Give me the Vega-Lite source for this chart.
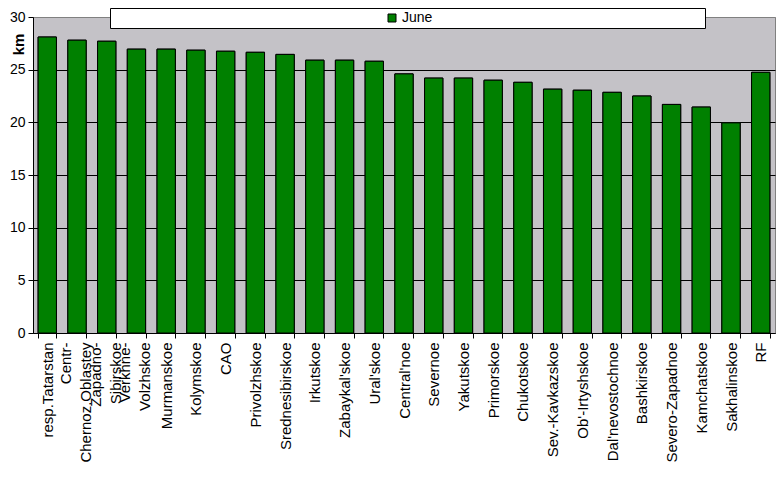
{
  "$schema": "https://vega.github.io/schema/vega-lite/v6.json",
  "width": 742,
  "height": 316,
  "autosize": {"type": "none"},
  "padding": {"left": 33, "top": 17, "right": 5, "bottom": 145},
  "background": "white",
  "config": {
    "view": {"fill": "#C4C2C7", "stroke": "#808080", "strokeWidth": 1},
    "font": "Liberation Sans"
  },
  "data": {
    "values": [
      {"region": "resp.Tatarstan", "km": 28.1, "series": "June"},
      {"region": "Centr-|Chernoz.Oblastey", "km": 27.8, "series": "June"},
      {"region": "Zapadno-|Sibirskoe", "km": 27.7, "series": "June"},
      {"region": "Verkhne-|Volzhskoe", "km": 26.95, "series": "June"},
      {"region": "Murmanskoe", "km": 26.95, "series": "June"},
      {"region": "Kolymskoe", "km": 26.85, "series": "June"},
      {"region": "CAO", "km": 26.75, "series": "June"},
      {"region": "Privolzhskoe", "km": 26.65, "series": "June"},
      {"region": "Srednesibirskoe", "km": 26.45, "series": "June"},
      {"region": "Irkutskoe", "km": 25.9, "series": "June"},
      {"region": "Zabaykal'skoe", "km": 25.9, "series": "June"},
      {"region": "Ural'skoe", "km": 25.8, "series": "June"},
      {"region": "Central'noe", "km": 24.6, "series": "June"},
      {"region": "Severnoe", "km": 24.2, "series": "June"},
      {"region": "Yakutskoe", "km": 24.2, "series": "June"},
      {"region": "Primorskoe", "km": 24.0, "series": "June"},
      {"region": "Chukotskoe", "km": 23.8, "series": "June"},
      {"region": "Sev.-Kavkazskoe", "km": 23.15, "series": "June"},
      {"region": "Ob'-Irtyshskoe", "km": 23.05, "series": "June"},
      {"region": "Dal'nevostochnoe", "km": 22.85, "series": "June"},
      {"region": "Bashkirskoe", "km": 22.5, "series": "June"},
      {"region": "Severo-Zapadnoe", "km": 21.7, "series": "June"},
      {"region": "Kamchatskoe", "km": 21.45, "series": "June"},
      {"region": "Sakhalinskoe", "km": 19.95, "series": "June"},
      {"region": "RF", "km": 24.75, "series": "June"}
    ]
  },
  "encoding": {
    "y": {
      "field": "km",
      "type": "quantitative",
      "scale": {"domain": [0, 30], "nice": false},
      "axis": {
        "title": "km",
        "values": [0, 5, 10, 15, 20, 25, 30],
        "grid": true,
        "gridColor": {"condition": {"test": "datum.value == 30", "value": "#808080"}, "value": "black"},
        "gridOpacity": 1,
        "domainColor": "black",
        "tickColor": "black",
        "tickSize": 5,
        "labelFontSize": 14,
        "labelColor": "black",
        "labelPadding": 3,
        "titleFontSize": 15,
        "titleFontWeight": "bold",
        "titleColor": "black",
        "titleX": -15,
        "titleY": 27,
        "titleAngle": -90,
        "titleAlign": "center",
        "titleBaseline": "middle"
      }
    },
    "color": {
      "field": "series",
      "type": "nominal",
      "scale": {"range": ["#008000"]},
      "legend": {
        "orient": "none",
        "legendX": 77,
        "legendY": -9,
        "title": " ",
        "titleOrient": "right",
        "titlePadding": 270,
        "titleFontSize": 14,
        "titleColor": "white",
        "fillColor": "white",
        "strokeColor": "black",
        "padding": 3,
        "symbolType": "square",
        "symbolSize": 64,
        "symbolStrokeColor": "black",
        "symbolStrokeWidth": 1,
        "symbolOffset": 272,
        "labelOffset": 3,
        "labelFontSize": 14,
        "labelColor": "black",
        "labelLimit": 600
      }
    }
  },
  "layer": [
    {
      "mark": {"type": "bar", "stroke": "black", "strokeWidth": 1},
      "encoding": {
        "x": {
          "field": "region",
          "type": "nominal",
          "sort": null,
          "scale": {"paddingInner": 0.384, "paddingOuter": 0.172},
          "axis": {
            "title": null,
            "orient": "bottom",
            "labelAngle": -90,
            "labelAlign": "right",
            "labelBaseline": "middle",
            "labelExpr": "length(split(datum.label, '|')) > 1 ? '' : datum.label",
            "labelFontSize": 15,
            "labelOverlap": false,
            "labelPadding": 4,
            "labelLimit": 200,
            "labelColor": "black",
            "tickBand": "extent",
            "tickSize": 5,
            "tickColor": "black",
            "domainColor": "black"
          }
        }
      }
    },
    {
      "mark": {"type": "bar", "stroke": "black", "strokeWidth": 1},
      "encoding": {
        "x": {
          "field": "region",
          "type": "nominal",
          "sort": null,
          "scale": {"paddingInner": 0.384, "paddingOuter": 0.172},
          "axis": {
            "title": null,
            "orient": "bottom",
            "labelAngle": -90,
            "labelAlign": "right",
            "labelBaseline": "line-bottom",
            "labelLineHeight": 20,
            "labelExpr": "length(split(datum.label, '|')) > 1 ? split(datum.label, '|') : ''",
            "labelFontSize": 15,
            "labelOverlap": false,
            "labelPadding": 4,
            "labelLimit": 200,
            "labelColor": "black",
            "tickSize": 5,
            "tickOpacity": 0,
            "domain": false
          }
        }
      }
    }
  ],
  "resolve": {"axis": {"x": "independent"}}
}
